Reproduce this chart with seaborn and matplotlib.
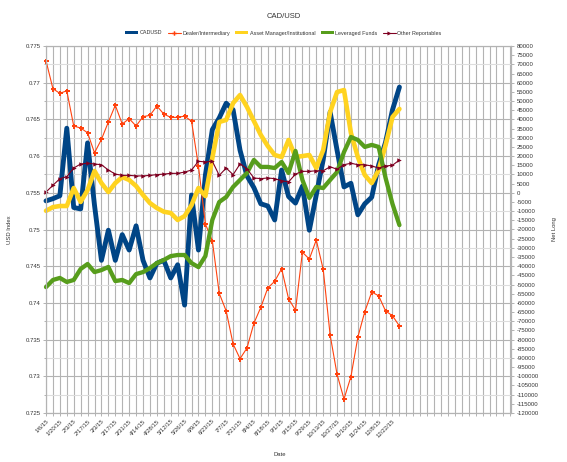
import matplotlib
matplotlib.use("Agg")
import matplotlib.pyplot as plt
import seaborn as sns
import pandas as pd
from matplotlib.lines import Line2D
from matplotlib.patches import Patch
from matplotlib.ticker import MultipleLocator, FuncFormatter

week = list(range(52))
date_labels = ["1/6/15", "1/20/15", "2/3/15", "2/17/15", "3/3/15", "3/17/15", "3/31/15",
               "4/14/15", "4/28/15", "5/12/15", "5/26/15", "6/9/15", "6/23/15", "7/7/15",
               "7/21/15", "8/4/15", "8/18/15", "9/1/15", "9/15/15", "9/29/15", "10/13/15",
               "10/27/15", "11/10/15", "11/24/15", "12/8/15", "12/22/15"]

cadusd = [0.7539, 0.7542, 0.7546, 0.7638, 0.7530, 0.7528, 0.7618, 0.7533, 0.7458, 0.7499,
          0.7458, 0.7493, 0.7472, 0.7505, 0.7458, 0.7434, 0.7454, 0.7458, 0.7434, 0.7452,
          0.7397, 0.7547, 0.7472, 0.7574, 0.7636, 0.7652, 0.7672, 0.7663, 0.7608, 0.7573,
          0.7557, 0.7535, 0.7532, 0.7513, 0.7581, 0.7545, 0.7536, 0.7559, 0.7499, 0.7547,
          0.7595, 0.7660, 0.7608, 0.7558, 0.7563, 0.7520, 0.7535, 0.7544, 0.7588, 0.7619,
          0.7663, 0.7694]

dealer = [72000, 56700, 54200, 55600, 36400, 35300, 32700, 21800, 29100, 38600,
          47700, 37500, 40400, 36400, 41500, 42200, 47300, 42900, 41100, 41100,
          41800, 39000, 14600, -17000, -26100, -54800, -64400, -82400, -90400, -84600,
          -71100, -62400, -51900, -48200, -41400, -57700, -64000, -32400, -36100, -25700,
          -41700, -77500, -98900, -112400, -100200, -78700, -64800, -54100, -56100, -64400,
          -67000, -72600]

asset_mgr = [-9800, -7800, -7200, -7200, 2600, -5000, 1500, 11900, 5300, 400,
             5300, 8600, 7000, 3700, -1200, -5600, -8300, -10300, -11000, -14800,
             -12700, -6700, 2600, -1800, 19000, 38600, 39700, 48900, 53300, 46800,
             39100, 31500, 25500, 20600, 19500, 28800, 19500, 20000, 20600, 13500,
             23300, 44000, 54900, 56000, 32600, 19500, 9700, 5300, 12400, 26000,
             41300, 45700]

leveraged = [-51400, -47500, -46400, -48600, -47500, -41500, -38800, -43200, -42100, -40400,
             -48100, -47500, -49200, -44300, -43200, -41000, -38300, -36600, -34500, -33900,
             -33900, -38300, -40500, -34500, -14800, -5000, -2300, 3200, 7000, 10800,
             17900, 14100, 14100, 13500, 16800, 10800, 22800, 7000, -2800, 3200,
             2600, 7000, 11300, 22200, 30400, 28800, 25000, 26100, 25000, 8100,
             -6100, -17600]

other = [400, 4100, 7700, 8800, 13500, 15700, 16100, 15700, 15300, 12400,
         10200, 9500, 9500, 9200, 9200, 9500, 9900, 10200, 10600, 10600,
         11300, 12400, 17200, 16800, 17200, 9500, 13500, 9900, 15700, 13100,
         8100, 7700, 8100, 7700, 6600, 5900, 10200, 11700, 11700, 12000,
         12000, 14200, 12800, 15300, 16100, 15300, 15300, 14600, 13500, 14600,
         15000, 17900]

series_names = ["CADUSD", "Dealer/Intermediary", "Asset Manager/Institutional",
                "Leveraged Funds", "Other Reportables"]
colors = ["#004586", "#ff420e", "#ffd320", "#579d1c", "#7e0021"]

df = pd.DataFrame({"week": week, "cadusd": cadusd, "dealer": dealer,
                   "asset": asset_mgr, "lev": leveraged, "other": other})

sns.set_theme(style="white")
plt.rcParams['font.family'] = ['Liberation Sans', 'DejaVu Sans']
txt = "#333333"
gridc = "#b3b3b3"

fig = plt.figure(figsize=(5.67, 4.62), dpi=100)
ax = fig.add_axes([46 / 567, 1 - 413 / 462, (511 - 46) / 567, (413 - 46) / 462])
ax2 = ax.twinx()
ax2.patch.set_visible(False)

jk = dict(solid_joinstyle="round", solid_capstyle="round", clip_on=False)
sns.lineplot(data=df, x="week", y="cadusd", ax=ax, color=colors[0], lw=3.5, legend=False, **jk)
sns.lineplot(data=df, x="week", y="dealer", ax=ax2, color=colors[1], lw=0.8,
             marker="P", markersize=3.6, markeredgewidth=0, legend=False, **jk)
sns.lineplot(data=df, x="week", y="asset", ax=ax2, color=colors[2], lw=3.3, legend=False, **jk)
sns.lineplot(data=df, x="week", y="lev", ax=ax2, color=colors[3], lw=3.1, legend=False, **jk)
sns.lineplot(data=df, x="week", y="other", ax=ax2, color=colors[4], lw=0.8,
             marker=">", markersize=3.2, markeredgewidth=0, legend=False, **jk)

ax.set_xlim(0, 67.1)
ax.set_ylim(0.725, 0.775)
ax2.set_ylim(-120000, 80000)

ax.set_xticks(range(0, 68))
xt = [date_labels[i // 2] if (i % 2 == 0 and i // 2 < len(date_labels)) else "" for i in range(68)]
ax.set_xticklabels(xt, rotation=45, ha="right", rotation_mode="anchor", fontsize=4.2, color=txt)

ax.yaxis.set_major_locator(MultipleLocator(0.005))
ax.yaxis.set_minor_locator(MultipleLocator(0.0025))
ax.yaxis.set_major_formatter(FuncFormatter(lambda v, p: ("%.3f" % v).rstrip("0").rstrip(".")))
ax2.yaxis.set_major_locator(MultipleLocator(5000))
ax2.yaxis.set_major_formatter(FuncFormatter(lambda v, p: "%d" % round(v)))

ax.grid(which="major", axis="both", color=gridc, lw=0.8)
ax.grid(which="minor", axis="y", color="#dddddd", lw=0.8)
ax.set_axisbelow(True)
ax2.grid(False)

ax.tick_params(axis="both", which="both", direction="out", length=2.5, width=0.7,
               color=gridc, labelsize=4.3, labelcolor=txt, bottom=True, left=True, pad=1.5)
ax.tick_params(axis="y", which="minor", length=1.5)
ax2.tick_params(axis="y", direction="out", length=2.5, width=0.7, color=gridc,
                labelsize=4.3, labelcolor=txt, right=True, pad=1.5)

for a in (ax, ax2):
    for s in a.spines.values():
        s.set_color(gridc)
        s.set_linewidth(0.8)

ax.set_xlabel("Date", fontsize=4.2, color=txt)
ax.xaxis.set_label_coords(0.503, -0.106)
ax.set_ylabel("USD Index", fontsize=4.2, color=txt)
ax.yaxis.set_label_coords(-(46 - 12) / 465, 0.5)
ax2.set_ylabel("Net Long", fontsize=4.2, color=txt, rotation=90)
ax2.yaxis.set_label_coords((552 - 46) / 465, 0.5)

fig.text(0.5, 1 - 17 / 462, "CAD/USD", ha="center", va="center", fontsize=5.5, color=txt)

handles = [
    Patch(facecolor=colors[0], edgecolor="none"),
    Line2D([], [], color=colors[1], lw=0.8, marker="P", markersize=3.2, markeredgewidth=0),
    Patch(facecolor=colors[2], edgecolor="none"),
    Patch(facecolor=colors[3], edgecolor="none"),
    Line2D([], [], color=colors[4], lw=0.8, marker=">", markersize=3, markeredgewidth=0),
]
leg = fig.legend(handles, series_names, loc="center", bbox_to_anchor=(0.5, 1 - 33 / 462),
                 ncol=5, frameon=False, fontsize=3.9, handlelength=2.4, handleheight=0.6,
                 columnspacing=0.9, handletextpad=0.35)
for t in leg.get_texts():
    t.set_color(txt)

fig.savefig("out.png", dpi=100)
